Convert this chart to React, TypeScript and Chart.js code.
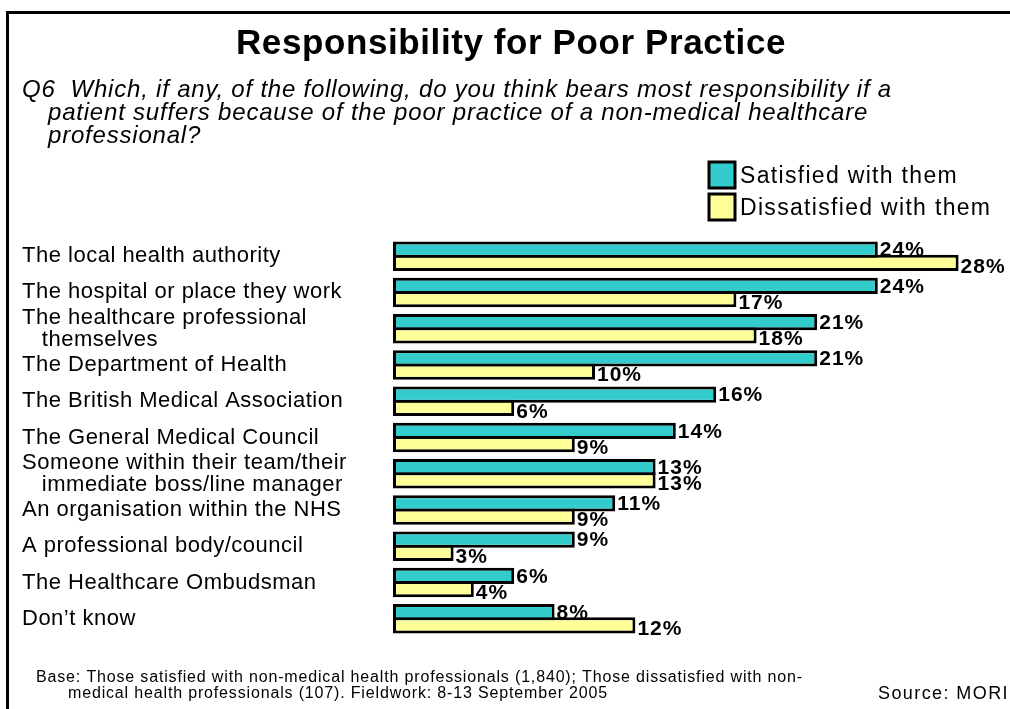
import React, { useEffect, useRef } from "react";
import { Chart, registerables } from "chart.js";

Chart.register(...registerables);

const categories: (string | string[])[] = [
  "The local health authority",
  "The hospital or place they work",
  ["The healthcare professional", "   themselves"],
  "The Department of Health",
  "The British Medical Association",
  "The General Medical Council",
  ["Someone within their team/their", "   immediate boss/line manager"],
  "An organisation within the NHS",
  "A professional body/council",
  "The Healthcare Ombudsman",
  "Don\u2019t know",
];

const satisfied = [24, 24, 21, 21, 16, 14, 13, 11, 9, 6, 8];
const dissatisfied = [28, 17, 18, 10, 6, 9, 13, 9, 3, 4, 12];

const seriesNames = ["Satisfied with them", "Dissatisfied with them"];
const seriesColors = ["#33CCCC", "#FFFF99"];

const titleText = "Responsibility for Poor Practice";
const questionLines = [
  "Q6  Which, if any, of the following, do you think bears most responsibility if a",
  "patient suffers because of the poor practice of a non-medical healthcare",
  "professional?",
];
const baseLines = [
  "Base: Those satisfied with non-medical health professionals (1,840); Those dissatisfied with non-",
  "medical health professionals (107). Fieldwork: 8-13 September 2005",
];
const sourceText = "Source: MORI";

const FONT = 'Arial, "Liberation Sans", Helvetica, sans-serif';

function fitSpacing(ctx: CanvasRenderingContext2D, text: string, width: number): number {
  (ctx as any).letterSpacing = "0px";
  const w = ctx.measureText(text).width;
  return (width - w) / text.length;
}

const framePlugin = {
  id: "frameAndTexts",
  beforeDraw(chart: any) {
    const ctx: CanvasRenderingContext2D = chart.ctx;
    ctx.save();
    ctx.fillStyle = "#ffffff";
    ctx.fillRect(0, 0, chart.width, chart.height);
    ctx.strokeStyle = "#000";
    ctx.lineWidth = 3;
    ctx.beginPath();
    ctx.moveTo(7.5, chart.height);
    ctx.lineTo(7.5, 12.5);
    ctx.lineTo(chart.width, 12.5);
    ctx.stroke();
    ctx.restore();
    (ctx as any).letterSpacing = "0.5px";
  },
  afterDraw(chart: any) {
    const ctx: CanvasRenderingContext2D = chart.ctx;
    ctx.save();
    ctx.fillStyle = "#000";
    ctx.textAlign = "left";
    ctx.textBaseline = "alphabetic";

    // title
    ctx.font = `bold 35px ${FONT}`;
    let sp = fitSpacing(ctx, titleText, 550);
    (ctx as any).letterSpacing = sp + "px";
    ctx.fillText(titleText, 236, 54);

    // question
    ctx.font = `italic 24px ${FONT}`;
    sp = fitSpacing(ctx, questionLines[0], 870);
    (ctx as any).letterSpacing = sp + "px";
    ctx.fillText(questionLines[0], 22, 97);
    ctx.fillText(questionLines[1], 48, 120);
    ctx.fillText(questionLines[2], 48, 143);

    // legend
    const boxY = [162, 194];
    ctx.font = `23px ${FONT}`;
    sp = fitSpacing(ctx, seriesNames[0], 218);
    seriesNames.forEach((name, i) => {
      ctx.fillStyle = seriesColors[i];
      ctx.fillRect(709, boxY[i], 26, 26);
      ctx.strokeStyle = "#000";
      ctx.lineWidth = 3;
      ctx.strokeRect(709, boxY[i], 26, 26);
      ctx.fillStyle = "#000";
      (ctx as any).letterSpacing = sp + "px";
      ctx.textBaseline = "middle";
      ctx.fillText(name, 740, boxY[i] + 15);
    });

    // footer
    ctx.textBaseline = "alphabetic";
    ctx.font = `16px ${FONT}`;
    sp = fitSpacing(ctx, baseLines[0], 767);
    (ctx as any).letterSpacing = sp + "px";
    ctx.fillText(baseLines[0], 36, 682);
    ctx.fillText(baseLines[1], 68, 698);

    ctx.font = `18px ${FONT}`;
    sp = fitSpacing(ctx, sourceText, 131);
    (ctx as any).letterSpacing = sp + "px";
    ctx.fillText(sourceText, 878, 699);

    ctx.restore();
    (ctx as any).letterSpacing = "0px";
  },
};

const valueLabelPlugin = {
  id: "valueLabels",
  afterDatasetsDraw(chart: any) {
    const ctx: CanvasRenderingContext2D = chart.ctx;
    ctx.save();
    ctx.font = `bold 21px ${FONT}`;
    (ctx as any).letterSpacing = "1px";
    ctx.fillStyle = "#000";
    ctx.textAlign = "left";
    ctx.textBaseline = "middle";
    chart.data.datasets.forEach((ds: any, di: number) => {
      const meta = chart.getDatasetMeta(di);
      meta.data.forEach((el: any, i: number) => {
        ctx.fillText(ds.data[i] + "%", el.x + 2, el.y + (di === 0 ? 1 : 4));
      });
    });
    ctx.restore();
  },
};

export default function App() {
  const ref = useRef<HTMLCanvasElement>(null);

  useEffect(() => {
    document.body.style.margin = "0";
    const canvas = ref.current!;
    const chart = new Chart(canvas, {
      type: "bar",
      data: {
        labels: categories,
        datasets: [
          {
            label: seriesNames[0],
            data: satisfied,
            backgroundColor: seriesColors[0],
            borderColor: "#000",
            borderWidth: 3,
            borderSkipped: false,
            categoryPercentage: 0.7306,
            barPercentage: 1.2264,
          },
          {
            label: seriesNames[1],
            data: dissatisfied,
            backgroundColor: seriesColors[1],
            borderColor: "#000",
            borderWidth: 3,
            borderSkipped: false,
            categoryPercentage: 0.7306,
            barPercentage: 1.2264,
          },
        ],
      },
      options: {
        indexAxis: "y",
        responsive: false,
        animation: false,
        devicePixelRatio: 1,
        layout: { padding: { left: 22, right: 11, top: 238, bottom: 72 } },
        plugins: {
          legend: { display: false },
          tooltip: { enabled: false },
          title: { display: false },
        },
        scales: {
          x: {
            display: false,
            min: 0,
            max: 30,
          },
          y: {
            position: "left",
            grid: { display: false },
            border: { display: false },
            afterFit: (scale: any) => {
              scale.width = 371;
            },
            ticks: {
              autoSkip: false,
              crossAlign: "far",
              padding: 0,
              color: "#000",
              font: { family: FONT, size: 22, lineHeight: 1.0 },
            },
          },
        },
      },
      plugins: [framePlugin, valueLabelPlugin],
    } as any);
    return () => chart.destroy();
  }, []);

  return (
    <div style={{ position: "absolute", left: 0, top: 0, width: 1010, height: 709, background: "#fff" }}>
      <canvas ref={ref} width={1010} height={709} style={{ display: "block", width: 1010, height: 709 }} />
    </div>
  );
}
